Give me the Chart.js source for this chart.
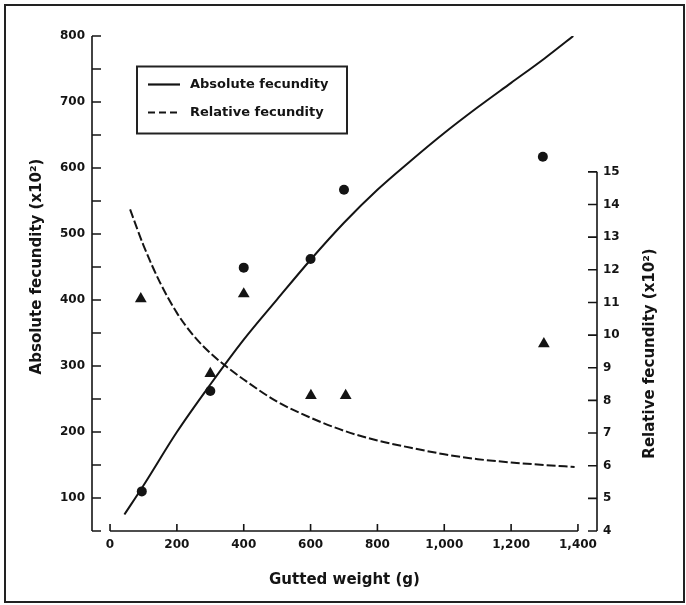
<!DOCTYPE html>
<html>
<head>
<meta charset="utf-8">
<script src="https://cdn.jsdelivr.net/npm/chart.js@4.4.1/dist/chart.umd.min.js"></script>
<style>
  html, body { margin: 0; padding: 0; background: #fff; }
  #wrap { width: 686px; height: 605px; }
</style>
</head>
<body>
<div id="wrap"><canvas id="chart-area" width="686" height="605"></canvas></div>
<script>
"use strict";

// Values (gutted weight in g, fecundity x10^2)

// fitted curve, absolute fecundity (left axis)
const ABS_CURVE_WEIGHT = [43, 100, 200, 300, 400, 500, 600, 700, 800, 900, 1000, 1100, 1200, 1300, 1386];
const ABS_CURVE_VALUE = [75, 119, 200, 272, 340, 401, 461, 517, 567, 611, 653, 692, 729, 766, 800];

// fitted curve, relative fecundity (right axis)
const REL_CURVE_WEIGHT = [60, 100, 150, 200, 250, 300, 350, 400, 500, 600, 700, 800, 900, 1000, 1100, 1200, 1300, 1390];
const REL_CURVE_VALUE = [13.85, 12.75, 11.6, 10.68, 9.98, 9.45, 9.02, 8.64, 7.96, 7.47, 7.07, 6.77, 6.55, 6.35, 6.2, 6.1, 6.02, 5.96];

// observations
const ABS_OBS_WEIGHT = [95, 300, 400, 600, 700, 1295];
const ABS_OBS_VALUE = [110, 262, 449, 462, 567, 617];
const REL_OBS_WEIGHT = [92, 300, 400, 601, 705, 1298];
const REL_OBS_VALUE = [11.11, 8.82, 11.26, 8.15, 8.15, 9.73];

// ticks
const X_TICKS = [0, 200, 400, 600, 800, 1000, 1200, 1400];
const LEFT_TICKS = [100, 200, 300, 400, 500, 600, 700, 800];
const LEFT_MINOR_TICKS = [50, 100, 150, 200, 250, 300, 350, 400, 450, 500, 550, 600, 650, 700, 750, 800];
const RIGHT_TICKS = [4, 5, 6, 7, 8, 9, 10, 11, 12, 13, 14, 15];

const INK = "#141414";
const FONT = "'DejaVu Sans', sans-serif";

function pairs(xs, ys) {
  return xs.map(function(x, i) {
    return { x: x, y: ys[i] };
  });
}

function fixedTicks(list) {
  return function(scale) {
    scale.ticks = list.map(function(v) {
      return { value: v };
    });
  };
}

// axis lines with inward ticks, outer frame, rotated y titles
const paperAxes = {
  id: "paperAxes",
  beforeDraw(chart) {
    const ctx = chart.ctx;
    ctx.save();
    ctx.fillStyle = "#fff";
    ctx.fillRect(0, 0, chart.width, chart.height);
    ctx.strokeStyle = "#222";
    ctx.lineWidth = 2;
    ctx.strokeRect(5, 5, chart.width - 7, chart.height - 8);
    ctx.restore();
  },
  afterDraw(chart) {
    const ctx = chart.ctx;
    const sx = chart.scales.x;
    const sy = chart.scales.y;
    const sr = chart.scales.y1;
    const area = chart.chartArea;
    ctx.save();
    ctx.strokeStyle = INK;
    ctx.lineWidth = 1.6;
    ctx.lineCap = "butt";

    // left axis
    const lx = area.left;
    ctx.beginPath();
    ctx.moveTo(lx, sy.getPixelForValue(800));
    ctx.lineTo(lx, sy.getPixelForValue(50));
    LEFT_MINOR_TICKS.forEach(function(v) {
      const py = sy.getPixelForValue(v);
      ctx.moveTo(lx, py);
      ctx.lineTo(lx + 9, py);
    });
    ctx.stroke();

    // right axis
    const rx = area.right;
    ctx.beginPath();
    ctx.moveTo(rx, sr.getPixelForValue(15));
    ctx.lineTo(rx, sr.getPixelForValue(4));
    RIGHT_TICKS.forEach(function(v) {
      const py = sr.getPixelForValue(v);
      ctx.moveTo(rx, py);
      ctx.lineTo(rx - 9, py);
    });
    ctx.stroke();

    // bottom axis
    const by = area.bottom;
    ctx.beginPath();
    ctx.moveTo(sx.getPixelForValue(0), by);
    ctx.lineTo(sx.getPixelForValue(1400), by);
    X_TICKS.forEach(function(v) {
      const px = sx.getPixelForValue(v);
      ctx.moveTo(px, by);
      ctx.lineTo(px, by - 7);
    });
    ctx.stroke();

    // y titles, both read bottom to top
    ctx.fillStyle = INK;
    ctx.font = "bold 15px " + FONT;
    ctx.textAlign = "center";
    ctx.textBaseline = "middle";
    const mid = (area.top + area.bottom) / 2;

    ctx.save();
    ctx.translate(area.left - 55, mid - 17);
    ctx.rotate(-Math.PI / 2);
    ctx.fillText("Absolute fecundity (x10\u00B2)", 0, 0);
    ctx.restore();

    ctx.save();
    ctx.translate(area.right + 53, mid + 70);
    ctx.rotate(-Math.PI / 2);
    ctx.fillText("Relative fecundity (x10\u00B2)", 0, 0);
    ctx.restore();

    // legend box
    const bx = area.left + 45;
    const bt = area.top + 30.5;
    ctx.lineWidth = 2;
    ctx.strokeStyle = "#222";
    ctx.strokeRect(bx, bt, 210, 67);

    ctx.strokeStyle = INK;
    ctx.lineWidth = 2.2;
    ctx.beginPath();
    ctx.moveTo(bx + 11, bt + 18);
    ctx.lineTo(bx + 43, bt + 18);
    ctx.stroke();
    ctx.setLineDash([7, 4]);
    ctx.beginPath();
    ctx.moveTo(bx + 11, bt + 46);
    ctx.lineTo(bx + 43, bt + 46);
    ctx.stroke();
    ctx.setLineDash([]);

    ctx.font = "bold 13px " + FONT;
    ctx.textAlign = "left";
    ctx.fillText("Absolute fecundity", bx + 53, bt + 18);
    ctx.fillText("Relative fecundity", bx + 53, bt + 46);
    ctx.restore();
  }
};

const tickFont = { family: FONT, size: 12, weight: "bold" };

const config = {
  type: "scatter",
  data: {
    datasets: [
      {
        label: "Absolute fecundity",
        data: pairs(ABS_CURVE_WEIGHT, ABS_CURVE_VALUE),
        showLine: true,
        borderColor: INK,
        borderWidth: 2,
        pointRadius: 0,
        cubicInterpolationMode: "monotone",
        yAxisID: "y"
      },
      {
        label: "Relative fecundity",
        data: pairs(REL_CURVE_WEIGHT, REL_CURVE_VALUE),
        showLine: true,
        borderColor: INK,
        borderWidth: 2,
        borderDash: [9, 3],
        pointRadius: 0,
        cubicInterpolationMode: "monotone",
        yAxisID: "y1"
      },
      {
        label: "Absolute observed",
        data: pairs(ABS_OBS_WEIGHT, ABS_OBS_VALUE),
        pointStyle: "circle",
        pointRadius: 5,
        borderWidth: 0,
        backgroundColor: INK,
        yAxisID: "y"
      },
      {
        label: "Relative observed",
        data: pairs(REL_OBS_WEIGHT, REL_OBS_VALUE),
        pointStyle: "triangle",
        pointRadius: 6.8,
        borderWidth: 0,
        backgroundColor: INK,
        yAxisID: "y1"
      }
    ]
  },
  options: {
    responsive: false,
    animation: false,
    layout: { padding: { top: 36, left: 0, right: 0, bottom: 0 } },
    plugins: {
      legend: { display: false },
      tooltip: { enabled: false }
    },
    scales: {
      x: {
        type: "linear",
        position: "bottom",
        min: -54,
        max: 1457,
        grid: { display: false, drawTicks: false },
        border: { display: false },
        afterBuildTicks: fixedTicks(X_TICKS),
        afterFit: function(scale) {
          scale.height = 74;
        },
        ticks: {
          color: INK,
          font: tickFont,
          padding: 7,
          maxRotation: 0,
          callback: function(v) {
            return v >= 1000 ? Math.floor(v / 1000) + "," + String(v % 1000).padStart(3, "0") : String(v);
          }
        },
        title: {
          display: true,
          text: "Gutted weight (g)",
          color: INK,
          font: { family: FONT, size: 15, weight: "bold" },
          padding: { top: 0, bottom: 16 }
        }
      },
      y: {
        type: "linear",
        position: "left",
        min: 50,
        max: 800,
        grid: { display: false, drawTicks: false },
        border: { display: false },
        afterBuildTicks: fixedTicks(LEFT_TICKS),
        afterFit: function(scale) {
          scale.width = 92;
        },
        ticks: { color: INK, font: tickFont, padding: 7 }
      },
      y1: {
        type: "linear",
        position: "right",
        min: 4,
        max: 19.16,
        grid: { display: false, drawTicks: false },
        border: { display: false },
        afterBuildTicks: fixedTicks(RIGHT_TICKS),
        afterFit: function(scale) {
          scale.width = 89;
        },
        ticks: { color: INK, font: tickFont, padding: 6 }
      }
    }
  },
  plugins: [paperAxes]
};

window.onload = function() {
  const ctx = document.getElementById("chart-area").getContext("2d");
  window.fecundityChart = new Chart(ctx, config);
};
</script>
</body>
</html>
